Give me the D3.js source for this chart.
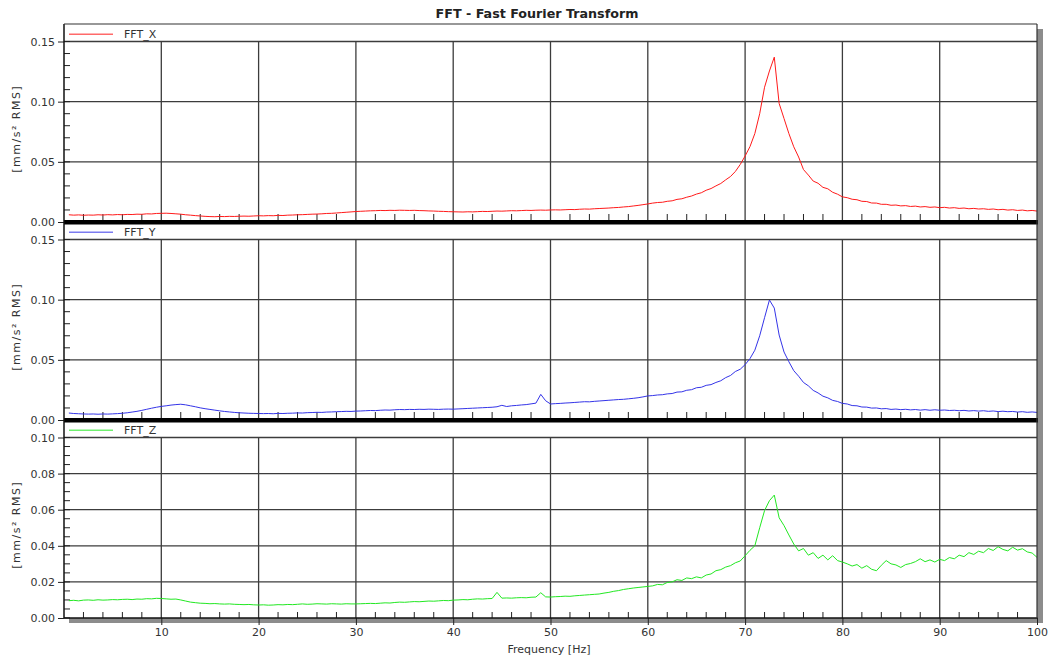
<!DOCTYPE html>
<html>
<head>
<meta charset="utf-8">
<script src="https://cdn.jsdelivr.net/npm/d3@7"></script>
<style>
  html, body { margin: 0; padding: 0; background: #fff; }
  svg { display: block; font-family: "DejaVu Sans", Verdana, sans-serif; }
</style>
</head>
<body>
<svg id="chart" width="1051" height="659"></svg>
<script>
// Frequency bins [Hz]
const freqs = [
  0.5,1,1.5,2,2.5,3,3.5,4,4.5,5,5.5,6,6.5,7,7.5,8,8.5,9,9.5,10,
  10.5,11,11.5,12,12.5,13,13.5,14,14.5,15,15.5,16,16.5,17,17.5,18,18.5,19,19.5,20,
  20.5,21,21.5,22,22.5,23,23.5,24,24.5,25,25.5,26,26.5,27,27.5,28,28.5,29,29.5,30,
  30.5,31,31.5,32,32.5,33,33.5,34,34.5,35,35.5,36,36.5,37,37.5,38,38.5,39,39.5,40,
  40.5,41,41.5,42,42.5,43,43.5,44,44.5,45,45.5,46,46.5,47,47.5,48,48.5,49,49.5,50,
  50.5,51,51.5,52,52.5,53,53.5,54,54.5,55,55.5,56,56.5,57,57.5,58,58.5,59,59.5,60,
  60.5,61,61.5,62,62.5,63,63.5,64,64.5,65,65.5,66,66.5,67,67.5,68,68.5,69,69.5,70,
  70.5,71,71.5,72,72.5,73,73.5,74,74.5,75,75.5,76,76.5,77,77.5,78,78.5,79,79.5,80,
  80.5,81,81.5,82,82.5,83,83.5,84,84.5,85,85.5,86,86.5,87,87.5,88,88.5,89,89.5,90,
  90.5,91,91.5,92,92.5,93,93.5,94,94.5,95,95.5,96,96.5,97,97.5,98,98.5,99,99.5,100
];

// Spectrum amplitude per axis [mm/s² RMS]
const fftX = [
  0.0060,0.0057,0.0059,0.0056,0.0058,0.0057,0.0060,0.0058,0.0061,0.0059,0.0062,0.0060,0.0063,0.0062,0.0065,0.0064,0.0068,0.0067,0.0071,0.0072,
  0.0073,0.0071,0.0068,0.0065,0.0060,0.0057,0.0053,0.0050,0.0047,0.0045,0.0044,0.0046,0.0045,0.0047,0.0046,0.0048,0.0049,0.0048,0.0050,0.0052,
  0.0051,0.0053,0.0052,0.0055,0.0054,0.0057,0.0058,0.0060,0.0061,0.0063,0.0065,0.0066,0.0068,0.0071,0.0072,0.0075,0.0078,0.0081,0.0084,0.0087,
  0.0089,0.0091,0.0093,0.0094,0.0096,0.0095,0.0097,0.0096,0.0098,0.0097,0.0096,0.0097,0.0095,0.0094,0.0092,0.0091,0.0089,0.0088,0.0086,0.0085,
  0.0084,0.0083,0.0085,0.0084,0.0086,0.0088,0.0087,0.0089,0.0091,0.0090,0.0092,0.0094,0.0093,0.0095,0.0097,0.0096,0.0098,0.0099,0.0098,0.0100,
  0.0101,0.0100,0.0102,0.0104,0.0103,0.0106,0.0108,0.0107,0.0110,0.0112,0.0114,0.0116,0.0119,0.0121,0.0125,0.0128,0.0133,0.0138,0.0144,0.0150,
  0.0157,0.0162,0.0164,0.0172,0.0176,0.0188,0.0193,0.0206,0.0216,0.0232,0.0243,0.0264,0.0278,0.0300,0.0320,0.0350,0.0378,0.0420,0.0478,0.0548,
  0.0626,0.0735,0.0900,0.1120,0.1255,0.1370,0.0985,0.0860,0.0735,0.0625,0.0540,0.0436,0.0390,0.0340,0.0322,0.0288,0.0276,0.0247,0.0231,0.0209,
  0.0202,0.0189,0.0185,0.0172,0.0170,0.0158,0.0157,0.0147,0.0147,0.0139,0.0141,0.0134,0.0136,0.0129,0.0132,0.0125,0.0128,0.0122,0.0125,0.0119,
  0.0122,0.0116,0.0119,0.0113,0.0116,0.0110,0.0113,0.0108,0.0110,0.0105,0.0108,0.0102,0.0105,0.0099,0.0102,0.0096,0.0099,0.0093,0.0096,0.0091
];

const fftY = [
  0.0058,0.0054,0.0052,0.0050,0.0049,0.0050,0.0048,0.0050,0.0049,0.0051,0.0053,0.0056,0.0060,0.0066,0.0072,0.0080,0.0089,0.0098,0.0106,0.0113,
  0.0118,0.0124,0.0128,0.0131,0.0126,0.0118,0.0110,0.0101,0.0094,0.0088,0.0082,0.0076,0.0071,0.0067,0.0063,0.0060,0.0058,0.0056,0.0055,0.0054,
  0.0053,0.0054,0.0052,0.0055,0.0054,0.0056,0.0057,0.0059,0.0058,0.0061,0.0062,0.0064,0.0063,0.0066,0.0067,0.0069,0.0070,0.0072,0.0071,0.0074,
  0.0075,0.0077,0.0079,0.0078,0.0081,0.0083,0.0082,0.0085,0.0087,0.0086,0.0088,0.0087,0.0089,0.0088,0.0090,0.0089,0.0088,0.0090,0.0091,0.0090,
  0.0092,0.0094,0.0096,0.0098,0.0100,0.0102,0.0104,0.0106,0.0110,0.0122,0.0112,0.0118,0.0121,0.0125,0.0128,0.0134,0.0140,0.0213,0.0160,0.0133,
  0.0136,0.0138,0.0141,0.0143,0.0146,0.0149,0.0152,0.0151,0.0155,0.0158,0.0161,0.0164,0.0167,0.0170,0.0172,0.0176,0.0180,0.0185,0.0192,0.0200,
  0.0203,0.0208,0.0210,0.0217,0.0220,0.0232,0.0234,0.0247,0.0252,0.0268,0.0272,0.0288,0.0294,0.0312,0.0326,0.0352,0.0370,0.0403,0.0422,0.0460,
  0.0510,0.0580,0.0700,0.0850,0.0997,0.0930,0.0706,0.0565,0.0484,0.0410,0.0364,0.0312,0.0284,0.0246,0.0225,0.0198,0.0184,0.0163,0.0154,0.0138,
  0.0133,0.0120,0.0118,0.0108,0.0107,0.0099,0.0100,0.0093,0.0095,0.0088,0.0091,0.0086,0.0089,0.0084,0.0087,0.0082,0.0086,0.0081,0.0085,0.0081,
  0.0083,0.0079,0.0081,0.0077,0.0080,0.0075,0.0078,0.0074,0.0077,0.0072,0.0075,0.0070,0.0073,0.0069,0.0071,0.0066,0.0069,0.0064,0.0067,0.0063
];

const fftZ = [
  0.0096,0.0098,0.0095,0.0099,0.0100,0.0098,0.0101,0.0099,0.0100,0.0102,0.0101,0.0103,0.0104,0.0102,0.0105,0.0104,0.0107,0.0106,0.0109,0.0108,
  0.0106,0.0104,0.0105,0.0100,0.0094,0.0088,0.0085,0.0082,0.0081,0.0079,0.0080,0.0078,0.0077,0.0078,0.0076,0.0075,0.0074,0.0075,0.0073,0.0072,
  0.0073,0.0071,0.0072,0.0074,0.0073,0.0075,0.0074,0.0076,0.0078,0.0076,0.0077,0.0079,0.0078,0.0077,0.0079,0.0078,0.0077,0.0079,0.0078,0.0078,
  0.0079,0.0080,0.0081,0.0080,0.0082,0.0084,0.0083,0.0086,0.0088,0.0087,0.0089,0.0091,0.0090,0.0092,0.0094,0.0093,0.0095,0.0097,0.0096,0.0099,
  0.0100,0.0102,0.0101,0.0104,0.0106,0.0105,0.0107,0.0108,0.0142,0.0110,0.0111,0.0110,0.0112,0.0113,0.0112,0.0115,0.0116,0.0140,0.0117,0.0116,
  0.0118,0.0119,0.0121,0.0120,0.0123,0.0125,0.0127,0.0129,0.0131,0.0133,0.0138,0.0142,0.0148,0.0152,0.0158,0.0162,0.0166,0.0169,0.0172,0.0175,
  0.0178,0.0186,0.0184,0.0197,0.0200,0.0212,0.0208,0.0222,0.0218,0.0228,0.0222,0.0238,0.0244,0.0262,0.0268,0.0282,0.0290,0.0306,0.0316,0.0345,
  0.0375,0.0400,0.0500,0.0595,0.0650,0.0681,0.0555,0.0512,0.0460,0.0410,0.0372,0.0385,0.0348,0.0362,0.0330,0.0348,0.0322,0.0345,0.0318,0.0310,
  0.0300,0.0288,0.0296,0.0276,0.0290,0.0270,0.0262,0.0292,0.0318,0.0300,0.0294,0.0280,0.0296,0.0302,0.0312,0.0328,0.0312,0.0322,0.0310,0.0325,
  0.0318,0.0335,0.0328,0.0348,0.0340,0.0362,0.0352,0.0370,0.0362,0.0385,0.0374,0.0395,0.0380,0.0372,0.0392,0.0376,0.0384,0.0366,0.0360,0.0336
];

const seriesNames  = ["FFT_X", "FFT_Y", "FFT_Z"];
const seriesColors = ["#ff1a1a", "#3434e8", "#22e822"];
const seriesValues = [fftX, fftY, fftZ];

// Per-panel value axes
const yDomainMax   = [0.15, 0.15, 0.10];
const yMajorTicks  = [[0, 0.05, 0.10, 0.15], [0, 0.05, 0.10, 0.15], [0, 0.02, 0.04, 0.06, 0.08, 0.10]];
const yMinorStep   = [0.01, 0.01, 0.005];

// Frequency axis
const xDomain     = [0, 100];
const xMajorTicks = [10, 20, 30, 40, 50, 60, 70, 80, 90, 100];
const xMinorTicks = [2,4,6,8,12,14,16,18,22,24,26,28,32,34,36,38,42,44,46,48,52,54,56,58,62,64,66,68,72,74,76,78,82,84,86,88,92,94,96,98];

const titleText = "FFT - Fast Fourier Transform";
const xLabel = "Frequency [Hz]";
const yLabel = "[mm/s² RMS]";

// ---- layout ----
const plotL = 64, plotR = 1037, plotT = 24;
const panelH = 198, legendH = 17.5;
const plotB = plotT + panelH * 3;
const gridColor = "#3c3c3c";
const textColor = "#333";

const svg = d3.select("#chart");
svg.append("rect").attr("width", 1051).attr("height", 659).attr("fill", "#fff");

const x = d3.scaleLinear().domain(xDomain).range([plotL, plotR]);

// drop shadow of the plot frame
svg.append("rect")
  .attr("x", plotL + 5).attr("y", plotT + 5)
  .attr("width", plotR - plotL + 1).attr("height", plotB - plotT)
  .attr("fill", "#8c8c8c");
svg.append("rect")
  .attr("x", plotL).attr("y", plotT)
  .attr("width", plotR - plotL).attr("height", plotB - plotT)
  .attr("fill", "#fff");

const defs = svg.append("defs");

seriesNames.forEach((name, i) => {
  const pTop = plotT + i * panelH;
  const pBottom = pTop + panelH;
  const y = d3.scaleLinear().domain([0, yDomainMax[i]]).range([pBottom, pTop + legendH]);
  const g = svg.append("g");

  // horizontal grid
  g.selectAll("line.hgrid")
    .data(yMajorTicks[i].filter(v => v > 0))
    .join("line")
    .attr("x1", plotL).attr("x2", plotR)
    .attr("y1", d => y(d)).attr("y2", d => y(d))
    .attr("stroke", gridColor).attr("stroke-width", 1.3);

  // vertical grid
  g.selectAll("line.vgrid")
    .data(xMajorTicks.filter(v => v < xDomain[1]))
    .join("line")
    .attr("x1", d => x(d)).attr("x2", d => x(d))
    .attr("y1", y(yDomainMax[i])).attr("y2", pBottom)
    .attr("stroke", gridColor).attr("stroke-width", 1.3);

  // minor y ticks (inside, from the left axis)
  const minor = d3.range(0, yDomainMax[i] + 1e-9, yMinorStep[i]);
  g.selectAll("line.ymin")
    .data(minor)
    .join("line")
    .attr("x1", plotL).attr("x2", plotL + 6)
    .attr("y1", d => y(d)).attr("y2", d => y(d))
    .attr("stroke", "#222").attr("stroke-width", 1);

  // minor x ticks (inside, from the bottom)
  const tickBase = i < 2 ? pBottom - 2 : pBottom;
  g.selectAll("line.xmin")
    .data(xMinorTicks)
    .join("line")
    .attr("x1", d => x(d)).attr("x2", d => x(d))
    .attr("y1", tickBase).attr("y2", tickBase - 6)
    .attr("stroke", "#222").attr("stroke-width", 1);

  // left axis with labels
  const yAxis = d3.axisLeft(y)
    .tickValues(yMajorTicks[i])
    .tickFormat(d3.format(".2f"))
    .tickSize(6).tickPadding(3);
  const ag = svg.append("g").attr("transform", `translate(${plotL},0)`).call(yAxis);
  ag.select(".domain").remove();
  ag.selectAll("line").attr("stroke", "#222");
  ag.selectAll("text").attr("fill", textColor).attr("font-size", 11)
    .attr("font-family", "DejaVu Sans, Verdana, sans-serif");

  // y axis title
  svg.append("text")
    .attr("transform", `translate(16,${(pTop + legendH + pBottom) / 2 - 3}) rotate(-90)`)
    .attr("text-anchor", "middle").attr("dominant-baseline", "central")
    .attr("font-size", 11).attr("letter-spacing", 1.5)
    .attr("fill", textColor)
    .text(yLabel);

  // spectrum line
  const clipId = "clip" + i;
  defs.append("clipPath").attr("id", clipId)
    .append("rect")
    .attr("x", plotL).attr("y", pTop + 1)
    .attr("width", plotR - plotL).attr("height", panelH - 1);

  const line = d3.line()
    .x((d, k) => x(freqs[k]))
    .y(d => y(d));

  svg.append("path")
    .datum(seriesValues[i])
    .attr("clip-path", `url(#${clipId})`)
    .attr("d", line)
    .attr("fill", "none")
    .attr("stroke", seriesColors[i])
    .attr("stroke-width", 1)
    .attr("stroke-linejoin", "round");

  // legend
  svg.append("line")
    .attr("x1", plotL + 5).attr("x2", plotL + 49)
    .attr("y1", pTop + 10.3).attr("y2", pTop + 10.3)
    .attr("stroke", seriesColors[i]).attr("stroke-width", 1.6)
    .attr("stroke-opacity", 0.65);
  svg.append("text")
    .attr("x", plotL + 60).attr("y", pTop + 14.2)
    .attr("font-size", 11).attr("fill", textColor)
    .text(name);

  // panel separator bar
  if (i < 2) {
    svg.append("rect")
      .attr("x", plotL).attr("y", pBottom - 2)
      .attr("width", plotR - plotL + 1).attr("height", 4.5)
      .attr("fill", "#000");
  }
});

// bottom frequency axis
const xAxis = d3.axisBottom(x)
  .tickValues(xMajorTicks)
  .tickFormat(d3.format("d"))
  .tickSize(7).tickPadding(3);
const xg = svg.append("g").attr("transform", `translate(0,${plotB})`).call(xAxis);
xg.select(".domain").remove();
xg.selectAll("line").attr("stroke", "#222");
xg.selectAll("text").attr("fill", textColor).attr("font-size", 11)
  .attr("font-family", "DejaVu Sans, Verdana, sans-serif");

// frame lines
svg.append("line").attr("x1", plotL).attr("x2", plotL).attr("y1", plotT).attr("y2", plotB)
  .attr("stroke", "#111").attr("stroke-width", 1.5);
svg.append("line").attr("x1", plotL).attr("x2", plotR + 0.5).attr("y1", plotB).attr("y2", plotB)
  .attr("stroke", "#111").attr("stroke-width", 1.3);
svg.append("line").attr("x1", plotL).attr("x2", plotR).attr("y1", plotT).attr("y2", plotT)
  .attr("stroke", "#333").attr("stroke-width", 1.2);
svg.append("line").attr("x1", plotR).attr("x2", plotR).attr("y1", plotT).attr("y2", plotB)
  .attr("stroke", "#333").attr("stroke-width", 1.2);

// titles
svg.append("text")
  .attr("x", 537).attr("y", 17.8)
  .attr("text-anchor", "middle")
  .attr("font-size", 12.7).attr("font-weight", "bold")
  .attr("fill", "#222")
  .text(titleText);

svg.append("text")
  .attr("x", 549).attr("y", 653)
  .attr("text-anchor", "middle")
  .attr("font-size", 11).attr("fill", textColor)
  .text(xLabel);
</script>
</body>
</html>
